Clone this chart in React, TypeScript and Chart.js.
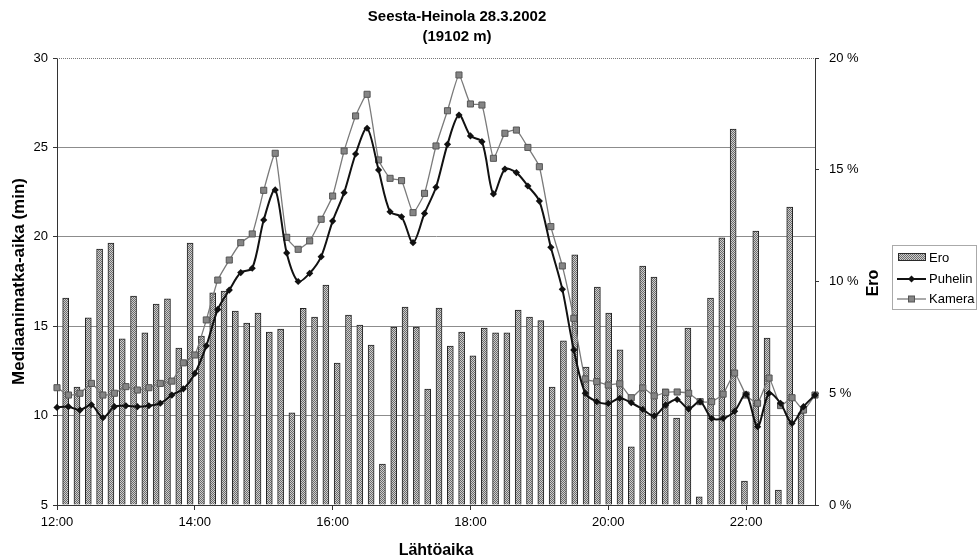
import React, { useEffect, useRef } from 'react';
import { Chart, registerables } from 'chart.js';

Chart.register(...registerables);

const titleLines = ['Seesta-Heinola 28.3.2002', '(19102 m)'];
const xTitle = 'Lähtöaika';
const yTitle = 'Mediaanimatka-aika (min)';
const y2Title = 'Ero';

const times = [
  '12:00', '12:10', '12:20', '12:30', '12:40', '12:50',
  '13:00', '13:10', '13:20', '13:30', '13:40', '13:50',
  '14:00', '14:10', '14:20', '14:30', '14:40', '14:50',
  '15:00', '15:10', '15:20', '15:30', '15:40', '15:50',
  '16:00', '16:10', '16:20', '16:30', '16:40', '16:50',
  '17:00', '17:10', '17:20', '17:30', '17:40', '17:50',
  '18:00', '18:10', '18:20', '18:30', '18:40', '18:50',
  '19:00', '19:10', '19:20', '19:30', '19:40', '19:50',
  '20:00', '20:10', '20:20', '20:30', '20:40', '20:50',
  '21:00', '21:10', '21:20', '21:30', '21:40', '21:50',
  '22:00', '22:10', '22:20', '22:30', '22:40', '22:50',
  '23:00',
];

const shownTimes = ['12:00', '14:00', '16:00', '18:00', '20:00', '22:00'];

const puhelin = [
  10.46, 10.5, 10.31, 10.6, 9.88, 10.5, 10.55, 10.5, 10.55, 10.69, 11.15, 11.5,
  12.36, 13.9, 15.94, 17.02, 18.0, 18.24, 20.94, 22.62, 19.1, 17.5, 17.96, 18.89,
  20.88, 22.47, 24.63, 26.07, 23.74, 21.4, 21.12, 19.67, 21.31, 22.77, 25.17, 26.81,
  25.64, 25.32, 22.4, 23.79, 23.59, 22.84, 22.0, 19.41, 17.06, 13.67, 11.25, 10.78,
  10.68, 10.97, 10.72, 10.35, 9.98, 10.59, 10.9, 10.38, 10.78, 9.85, 9.85, 10.25,
  11.2, 9.38, 11.25, 10.69, 9.57, 10.5, 11.15,
];

const kamera = [
  11.56, 11.15, 11.25, 11.8, 11.15, 11.25, 11.62, 11.43, 11.56, 11.8, 11.93, 12.95,
  13.39, 15.35, 17.58, 18.7, 19.67, 20.16, 22.6, 24.67, 19.97, 19.3, 19.77, 20.98,
  22.28, 24.8, 26.76, 27.97, 24.3, 23.27, 23.14, 21.35, 22.43, 25.08, 27.05, 29.05,
  27.43, 27.37, 24.39, 25.79, 25.97, 25.0, 23.92, 20.57, 18.37, 15.44, 12.05, 11.9,
  11.71, 11.78, 11.0, 11.55, 11.1, 11.3, 11.32, 11.25, 10.78, 10.78, 11.2, 12.38,
  11.15, 10.69, 12.1, 10.56, 11.0, 10.31, 11.15,
];

const ero = [
  9.26, 5.28, 8.37, 11.45, 11.72, 7.43, 9.35, 7.7, 8.99, 9.22, 7.02, 11.72,
  7.56, 9.49, 9.57, 8.68, 8.14, 8.59, 7.74, 7.87, 4.12, 8.8, 8.41, 9.84,
  6.35, 8.5, 8.05, 7.16, 1.83, 7.96, 8.86, 7.96, 5.19, 8.81, 7.11, 7.74,
  6.67, 7.92, 7.7, 7.7, 8.72, 8.41, 8.25, 5.28, 7.34, 11.19, 6.17, 9.75,
  8.59, 6.94, 2.6, 10.69, 10.2, 5.2, 3.89, 7.92, 0.36, 9.26, 11.95, 16.82,
  1.07, 12.26, 7.47, 0.67, 13.33, 4.12, null,
];

const FONT = "'Liberation Sans', Arial, Helvetica, sans-serif";

function makePattern(): CanvasPattern | string {
  const c = document.createElement('canvas');
  c.width = 2;
  c.height = 2;
  const g = c.getContext('2d');
  if (!g) return '#999';
  g.fillStyle = '#cfcfcf';
  g.fillRect(0, 0, 2, 2);
  g.fillStyle = '#6a6a6a';
  g.fillRect(0, 0, 1, 1);
  g.fillRect(1, 1, 1, 1);
  return g.createPattern(c, 'repeat') || '#999';
}

export default function App() {
  const ref = useRef<HTMLCanvasElement | null>(null);

  useEffect(() => {
    const canvas = ref.current;
    if (!canvas) return;
    const pattern = makePattern();

    const decor = {
      id: 'decor',
      afterDraw(chart: any) {
        const ctx = chart.ctx as CanvasRenderingContext2D;
        const a = chart.chartArea;
        ctx.save();
        ctx.strokeStyle = '#777';
        ctx.lineWidth = 1;
        ctx.setLineDash([1, 1]);
        ctx.beginPath();
        ctx.moveTo(a.left, a.top + 0.5);
        ctx.lineTo(a.right, a.top + 0.5);
        ctx.stroke();
        ctx.setLineDash([]);

        ctx.fillStyle = '#000';
        ctx.textAlign = 'center';
        ctx.textBaseline = 'middle';
        ctx.font = `bold 15px ${FONT}`;
        ctx.fillText(titleLines[0], 457, 17);
        ctx.fillText(titleLines[1], 457, 37);

        ctx.save();
        ctx.translate(874, 283);
        ctx.rotate(-Math.PI / 2);
        ctx.font = `bold 16px ${FONT}`;
        ctx.fillText(y2Title, 0, 0);
        ctx.restore();

        const lx = 892.5, ly = 245.5, lw = 84, lh = 64;
        ctx.strokeStyle = '#aaa';
        ctx.lineWidth = 1;
        ctx.strokeRect(lx, ly, lw, lh);
        ctx.font = `13px ${FONT}`;
        ctx.textAlign = 'left';
        ctx.fillStyle = pattern as any;
        ctx.fillRect(898, 253, 28, 8);
        ctx.strokeStyle = '#2a2a2a';
        ctx.strokeRect(898.5, 253.5, 27, 7);
        ctx.fillStyle = '#000';
        ctx.fillText('Ero', 929, 258);
        ctx.strokeStyle = '#111';
        ctx.lineWidth = 2;
        ctx.beginPath();
        ctx.moveTo(897, 279);
        ctx.lineTo(926, 279);
        ctx.stroke();
        ctx.fillStyle = '#111';
        ctx.beginPath();
        ctx.moveTo(911.5, 275.5);
        ctx.lineTo(915, 279);
        ctx.lineTo(911.5, 282.5);
        ctx.lineTo(908, 279);
        ctx.closePath();
        ctx.fill();
        ctx.fillStyle = '#000';
        ctx.fillText('Puhelin', 929, 279);
        ctx.strokeStyle = '#7a7a7a';
        ctx.lineWidth = 1.3;
        ctx.beginPath();
        ctx.moveTo(897, 299);
        ctx.lineTo(926, 299);
        ctx.stroke();
        ctx.fillStyle = '#858585';
        ctx.fillRect(908.5, 296, 6, 6);
        ctx.strokeStyle = '#555';
        ctx.lineWidth = 1;
        ctx.strokeRect(908.5, 296, 6, 6);
        ctx.fillStyle = '#000';
        ctx.fillText('Kamera', 929, 299);
        ctx.restore();
      },
    };

    const chart = new Chart(canvas, {
      type: 'bar',
      data: {
        labels: times,
        datasets: [
          {
            type: 'line',
            label: 'Puhelin',
            data: puhelin,
            xAxisID: 'x',
            yAxisID: 'y',
            borderColor: '#111',
            backgroundColor: '#111',
            borderWidth: 2,
            pointStyle: 'rectRot',
            pointRadius: 3.6,
            pointBorderWidth: 0,
            tension: 0.3,
            order: 1,
          } as any,
          {
            type: 'line',
            label: 'Kamera',
            data: kamera,
            xAxisID: 'x',
            yAxisID: 'y',
            borderColor: '#7a7a7a',
            backgroundColor: '#858585',
            pointBorderColor: '#555',
            pointBorderWidth: 1,
            borderWidth: 1.3,
            pointStyle: 'rect',
            pointRadius: 4.3,
            tension: 0.15,
            order: 2,
          } as any,
          {
            type: 'bar',
            label: 'Ero',
            data: ero,
            xAxisID: 'x2',
            yAxisID: 'y2',
            backgroundColor: pattern as any,
            borderColor: '#222',
            borderWidth: 1,
            barThickness: 6,
            order: 3,
          } as any,
        ],
      },
      options: {
        responsive: false,
        animation: false,
        events: [],
        layout: { padding: { top: 58, left: 0, right: 0, bottom: 0 } },
        plugins: {
          legend: { display: false },
          title: { display: false },
          tooltip: { enabled: false },
        },
        scales: {
          x: {
            type: 'category',
            position: 'bottom',
            offset: false,
            grid: {
              offset: false,
              drawOnChartArea: false,
              drawTicks: true,
              tickLength: 5,
              color: (c: any) => (shownTimes.includes(times[c.index]) ? '#333' : 'rgba(0,0,0,0)'),
            },
            border: { display: true, color: '#333', width: 1 },
            ticks: {
              autoSkip: false,
              maxRotation: 0,
              minRotation: 0,
              padding: 5,
              color: '#000',
              font: { size: 13, family: FONT },
              callback: (_v: any, i: number) => (shownTimes.includes(times[i]) ? times[i] : ''),
            },
            title: {
              display: true,
              text: xTitle,
              color: '#000',
              font: { size: 16, weight: 'bold', family: FONT },
              padding: { top: 0, bottom: 0 },
            },
            afterFit: (s: any) => {
              s.height = 55;
            },
          } as any,
          x2: {
            type: 'category',
            axis: 'x',
            position: 'top',
            display: false,
            offset: true,
          } as any,
          y: {
            type: 'linear',
            position: 'left',
            min: 5,
            max: 30,
            ticks: {
              stepSize: 5,
              padding: 5,
              color: '#000',
              font: { size: 13, family: FONT },
            },
            grid: {
              color: (c: any) =>
                c.tick && (c.tick.value === 30 || c.tick.value === 5) ? 'rgba(0,0,0,0)' : '#8c8c8c',
              tickColor: '#333',
              tickLength: 4,
              lineWidth: 1,
            },
            border: { display: true, color: '#333', width: 1 },
            title: {
              display: true,
              text: yTitle,
              color: '#000',
              font: { size: 17, weight: 'bold', family: FONT },
              padding: { top: 9, bottom: 0 },
            },
            afterFit: (s: any) => {
              s.width = 57;
            },
          } as any,
          y2: {
            type: 'linear',
            position: 'right',
            min: 0,
            max: 20,
            ticks: {
              stepSize: 5,
              padding: 10,
              color: '#000',
              font: { size: 13, family: FONT },
              callback: (v: any) => `${v} %`,
            },
            grid: {
              drawOnChartArea: false,
              tickLength: 4,
              color: '#333',
            },
            border: { display: true, color: '#333', width: 1 },
            afterFit: (s: any) => {
              s.width = 165;
            },
          } as any,
        },
      },
      plugins: [decor],
    });

    return () => {
      chart.destroy();
    };
  }, []);

  return (
    <div
      style={{
        position: 'fixed',
        left: 0,
        top: 0,
        width: 980,
        height: 560,
        background: '#fff',
      }}
    >
      <canvas ref={ref} width={980} height={560} style={{ display: 'block', width: 980, height: 560 }} />
    </div>
  );
}
